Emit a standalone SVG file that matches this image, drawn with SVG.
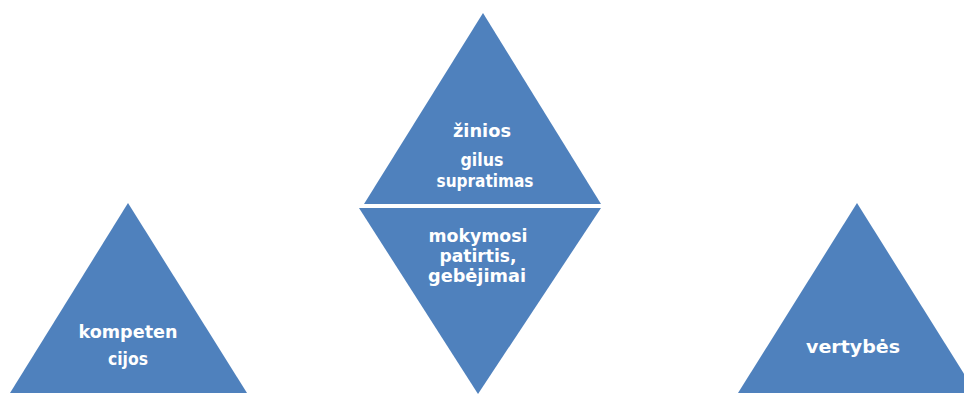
<svg xmlns="http://www.w3.org/2000/svg" width="964" height="396" viewBox="0 0 964 396">
<style>
.tri{fill:#4f81bd;stroke:none}
.lbl{font-family:"DejaVu Sans","Liberation Sans",sans-serif;font-weight:bold;font-size:18px;fill:#ffffff;text-anchor:middle}
</style>
<rect width="964" height="396" fill="#ffffff"/>
<g id="kompetencijos">
<polygon class="tri" points="128,203 247,393 10,393"/>
<text class="lbl" x="128" y="338" textLength="99" lengthAdjust="spacingAndGlyphs">kompeten</text>
<text class="lbl" x="128" y="365" textLength="40" lengthAdjust="spacingAndGlyphs">cijos</text>
</g>
<g id="zinios">
<polygon class="tri" points="483,13 601,204 364,204"/>
<text class="lbl" x="482" y="137" textLength="58" lengthAdjust="spacingAndGlyphs">žinios</text>
<text class="lbl" x="482" y="166" textLength="43" lengthAdjust="spacingAndGlyphs">gilus</text>
<text class="lbl" x="485" y="187" textLength="97" lengthAdjust="spacingAndGlyphs">supratimas</text>
</g>
<g id="mokymosi">
<polygon class="tri" points="359,208 601,208 478,394"/>
<text class="lbl" x="478" y="242" textLength="99" lengthAdjust="spacingAndGlyphs">mokymosi</text>
<text class="lbl" x="478" y="262" textLength="77" lengthAdjust="spacingAndGlyphs">patirtis,</text>
<text class="lbl" x="477" y="282" textLength="98" lengthAdjust="spacingAndGlyphs">gebėjimai</text>
</g>
<g id="vertybes">
<polygon class="tri" points="857,203 976,393 738,393"/>
<text class="lbl" x="853" y="353" textLength="94" lengthAdjust="spacingAndGlyphs">vertybės</text>
</g>
<g id="connectors"></g>
</svg>
